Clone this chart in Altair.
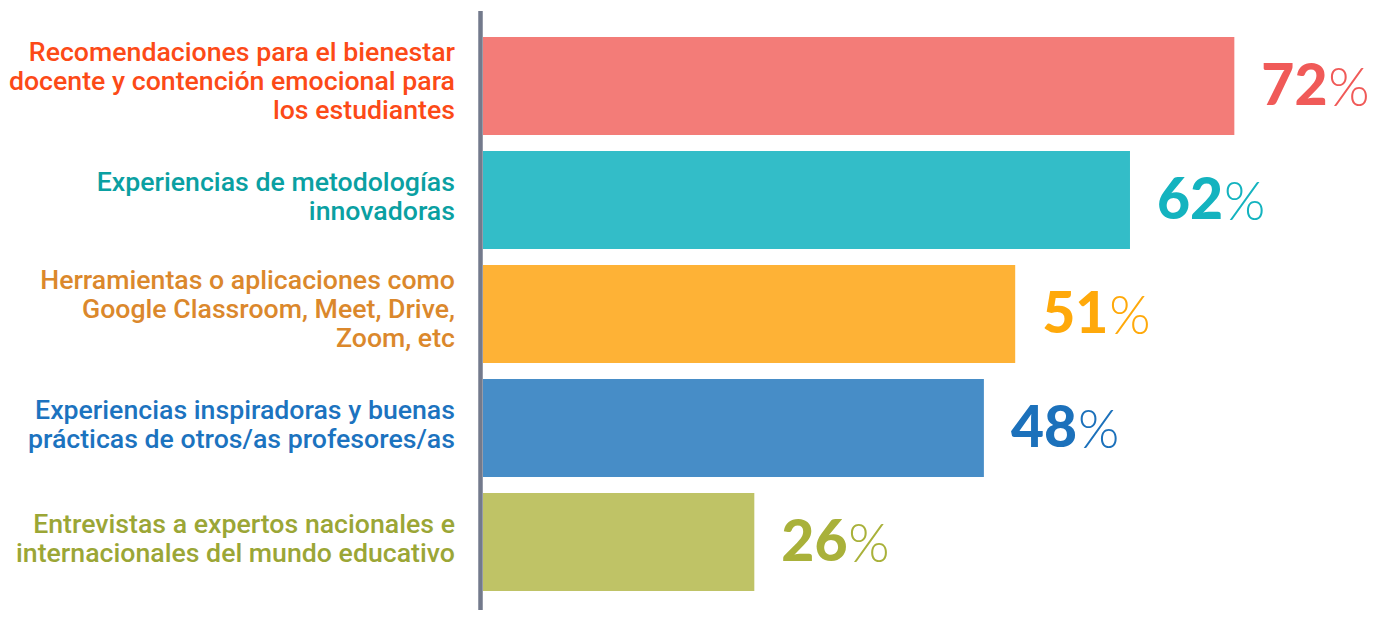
import altair as alt
import pandas as pd

categories = [
    "Recomendaciones para el bienestar\ndocente y contención emocional para\nlos estudiantes",
    "Experiencias de metodologías\ninnovadoras",
    "Herramientas o aplicaciones como\nGoogle Classroom, Meet, Drive,\nZoom, etc",
    "Experiencias inspiradoras y buenas\nprácticas de otros/as profesores/as",
    "Entrevistas a expertos nacionales e\ninternacionales del mundo educativo",
]
values = [72, 62, 51, 48, 26]
value_labels = ["72", "62", "51", "48", "26"]
bar_colors = ["#f37c78", "#33bdc8", "#feb236", "#478dc7", "#bfc366"]
label_colors = ["#fc4a17", "#0aa0a2", "#db882c", "#1c73bf", "#9ba636"]
value_colors = ["#f05a58", "#14b3bf", "#ffa90a", "#1c71bb", "#a9b13a"]

df = pd.DataFrame({"cat": categories, "value": values, "vlabel": value_labels})

W, H = 887, 570

yenc = alt.Y("cat:N", sort=categories, axis=None,
             scale=alt.Scale(paddingInner=0.14, paddingOuter=0.07))
xscale = alt.Scale(domain=[0, 85])

base = alt.Chart(df)

bars = base.mark_bar().encode(
    x=alt.X("value:Q", scale=xscale, axis=None),
    y=yenc,
    color=alt.Color("cat:N", scale=alt.Scale(domain=categories, range=bar_colors), legend=None),
)


def label_layer(nlines, dy):
    return base.transform_calculate(
        nl="split(datum.cat, '\\n').length"
    ).transform_filter(
        alt.datum.nl == nlines
    ).mark_text(
        align="right", baseline="middle", font="Roboto", fontWeight=500,
        fontSize=26.7, lineHeight=29, lineBreak="\n", dy=dy,
    ).encode(
        x=alt.value(-28),
        y=yenc,
        text="cat:N",
        color=alt.Color("cat:N", scale=alt.Scale(domain=categories, range=label_colors), legend=None),
    )


labels3 = label_layer(3, -33)
labels2 = label_layer(2, -17)

nums = base.mark_text(
    align="left", baseline="alphabetic", font="Lato", fontWeight=900,
    fontSize=57, dx=27, dy=19,
).encode(
    x=alt.X("value:Q", scale=xscale),
    y=yenc,
    text="vlabel:N",
    color=alt.Color("cat:N", scale=alt.Scale(domain=categories, range=value_colors), legend=None),
)

pcts = base.mark_text(
    align="left", baseline="alphabetic", font="Lato", fontWeight=300,
    fontSize=53, dx=94, dy=20,
).encode(
    x=alt.X("value:Q", scale=xscale),
    y=yenc,
    text=alt.value("%"),
    color=alt.Color("cat:N", scale=alt.Scale(domain=categories, range=value_colors), legend=None),
)

axis_line = alt.Chart(pd.DataFrame({"a": [0]})).mark_rule(
    color="#737a8c", strokeWidth=4.5
).encode(
    x=alt.value(-2.5), y=alt.value(-18), y2=alt.value(H + 12),
)

chart = alt.layer(bars, labels3, labels2, nums, pcts, axis_line).resolve_scale(
    color="independent"
).properties(
    width=W, height=H,
    autosize=alt.AutoSizeParams(type="none"),
    padding={"left": 475, "top": 21, "right": 1, "bottom": 11},
).configure_view(stroke=None)

chart.save("out.html", embed_options={"renderer": "svg", "actions": False})
